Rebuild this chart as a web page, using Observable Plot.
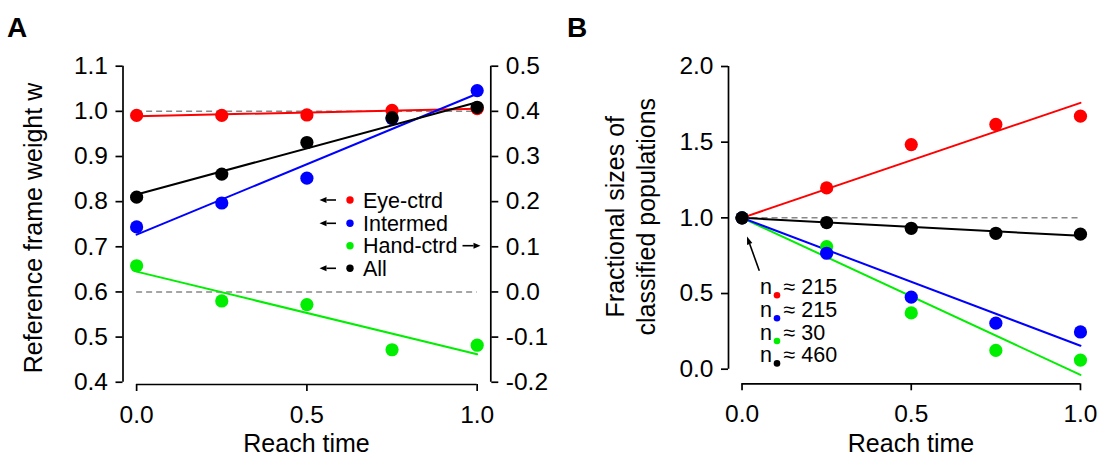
<!DOCTYPE html>
<html>
<head>
<meta charset="utf-8">
<script src="https://cdn.jsdelivr.net/npm/d3@7"></script>
<script src="https://cdn.jsdelivr.net/npm/@observablehq/plot@0.6"></script>
<style>
  html, body { margin: 0; padding: 0; background: #fff; }
  #root { position: relative; width: 1097px; height: 458px; overflow: hidden;
          font-family: 'Liberation Sans', Arial, Helvetica, sans-serif; }
  #root > svg, #root > div { position: absolute; top: 0; }
  #overlay { left: 0; top: 0; pointer-events: none; }
</style>
</head>
<body>
<div id="root"></div>
<script>
const FONT = "'Liberation Sans', Arial, Helvetica, sans-serif";

// ---------- shared ----------
const times = [0, 0.25, 0.5, 0.75, 1];
const fitTimes = [0, 1];
const xTicks = [0, 0.5, 1];
const seriesNames = ["Eye-ctrd", "Intermed", "Hand-ctrd", "All"];
const seriesColors = ["#ff0000", "#0000ff", "#00ee00", "#000000"];

// ---------- Panel A: reference frame weight ----------
const aLeftTicks = [0.4, 0.5, 0.6, 0.7, 0.8, 0.9, 1.0, 1.1];
const aRightTicks = [-0.2, -0.1, 0.0, 0.1, 0.2, 0.3, 0.4, 0.5];
const aRightOffset = 0.6;             // right axis value + 0.6 = left axis value
const aEye      = [0.991, 0.991, 0.992, 1.002, 1.006];
const aIntermed = [0.744, 0.797, 0.852, 0.984, 1.046];
const aHand     = [0.058, -0.020, -0.028, -0.128, -0.118];   // right axis
const aAll      = [0.810, 0.861, 0.931, 0.986, 1.009];
const aEyeFit      = [0.989, 1.006];
const aIntermedFit = [0.727, 1.039];
const aHandFit     = [0.045, -0.138];                        // right axis
const aAllFit      = [0.816, 1.020];
const aRefLeft = 1.0, aRefRight = 0.0;

// ---------- Panel B: fractional sizes ----------
const bTicks = [0, 0.5, 1.0, 1.5, 2.0];
const bEye      = [1, 1.198, 1.484, 1.617, 1.672];
const bIntermed = [1, 0.766, 0.476, 0.304, 0.246];
const bHand     = [1, 0.810, 0.372, 0.124, 0.060];
const bAll      = [1, 0.969, 0.931, 0.898, 0.892];
const bEyeFit      = [1, 1.760];
const bIntermedFit = [1, 0.155];
const bHandFit     = [1, -0.038];
const bAllFit      = [1, 0.881];
const bRef = 1.0;
const bCounts = ["215", "215", "30", "460"];

const rows = (vals, off = 0) => times.map((t, i) => ({t, v: vals[i] + off}));
const fitRows = (vals, off = 0) => fitTimes.map((t, i) => ({t, v: vals[i] + off}));
const fmt1 = v => (Math.round(v * 10) / 10).toFixed(1);

const root = document.getElementById("root");
const DOT_R = 6.6, LW = 2, AXW = 1.7, TICK_FS = 24.5, TITLE_FS = 25, LEG_FS = 21.5;

// ---------- build Panel A ----------
const aX = [-0.04, 1.04], aY = [0.395, 1.1];
const aSeries = [
  {pts: rows(aEye), fit: fitRows(aEyeFit), c: seriesColors[0]},
  {pts: rows(aIntermed), fit: fitRows(aIntermedFit), c: seriesColors[1]},
  {pts: rows(aHand, aRightOffset), fit: fitRows(aHandFit, aRightOffset), c: seriesColors[2]},
  {pts: rows(aAll), fit: fitRows(aAllFit), c: seriesColors[3]}
];
const plotA = Plot.plot({
  width: 560, height: 458,
  marginLeft: 122.5, marginRight: 69.7, marginTop: 65.7, marginBottom: 74,
  x: {domain: aX, axis: null},
  y: {domain: aY, axis: null},
  style: {fontFamily: FONT, fontSize: TICK_FS + "px", color: "#000", background: "transparent", overflow: "visible"},
  marks: [
    Plot.ruleY([aRefLeft, aRefRight + aRightOffset], {x1: fitTimes[0], x2: fitTimes[1], stroke: "#888", strokeWidth: 1.5, strokeDasharray: "6,4"}),
    ...aSeries.flatMap(s => [
      Plot.line(s.fit, {x: "t", y: "v", stroke: s.c, strokeWidth: LW}),
      Plot.dot(s.pts, {x: "t", y: "v", fill: s.c, r: DOT_R})
    ]),
    Plot.ruleX([aX[0]], {y1: d3.min(aLeftTicks), y2: d3.max(aLeftTicks), strokeWidth: AXW}),
    Plot.ruleX([aX[1]], {y1: d3.min(aRightTicks) + aRightOffset, y2: d3.max(aRightTicks) + aRightOffset, strokeWidth: AXW}),
    Plot.ruleY([aY[0]], {x1: d3.min(xTicks), x2: d3.max(xTicks), strokeWidth: AXW}),
    Plot.axisY(aLeftTicks, {anchor: "left", tickSize: 7, tickPadding: 8, strokeWidth: AXW, fontSize: TICK_FS, tickFormat: fmt1, label: null}),
    Plot.axisY(aRightTicks.map(v => v + aRightOffset), {anchor: "right", tickSize: 7, tickPadding: 8, strokeWidth: AXW, fontSize: TICK_FS, tickFormat: v => fmt1(v - aRightOffset), label: null}),
    Plot.axisX(xTicks, {anchor: "bottom", tickSize: 7, tickPadding: 14, strokeWidth: AXW, fontSize: TICK_FS, tickFormat: fmt1, label: null})
  ]
});
plotA.style.left = "0px";
root.appendChild(plotA);

// ---------- build Panel B ----------
const bX = [-0.04, 1.04], bY = [-0.0965, 2.0];
const bSeries = [
  {pts: rows(bEye), fit: fitRows(bEyeFit), c: seriesColors[0]},
  {pts: rows(bHand), fit: fitRows(bHandFit), c: seriesColors[2]},
  {pts: rows(bIntermed), fit: fitRows(bIntermedFit), c: seriesColors[1]},
  {pts: rows(bAll), fit: fitRows(bAllFit), c: seriesColors[3]}
];
const plotB = Plot.plot({
  width: 537, height: 458,
  marginLeft: 168, marginRight: 3.5, marginTop: 66, marginBottom: 458 - 383.3,
  x: {domain: bX, axis: null},
  y: {domain: bY, axis: null},
  style: {fontFamily: FONT, fontSize: TICK_FS + "px", color: "#000", background: "transparent", overflow: "visible"},
  marks: [
    Plot.ruleY([bRef], {x1: fitTimes[0], x2: fitTimes[1], stroke: "#888", strokeWidth: 1.5, strokeDasharray: "6,4"}),
    ...bSeries.map(s => Plot.line(s.fit, {x: "t", y: "v", stroke: s.c, strokeWidth: LW})),
    ...bSeries.map(s => Plot.dot(s.pts, {x: "t", y: "v", fill: s.c, r: DOT_R})),
    Plot.ruleX([bX[0]], {y1: d3.min(bTicks), y2: d3.max(bTicks), strokeWidth: AXW}),
    Plot.ruleY([bY[0]], {x1: d3.min(xTicks), x2: d3.max(xTicks), strokeWidth: AXW}),
    Plot.axisY(bTicks, {anchor: "left", tickSize: 7, tickPadding: 8, strokeWidth: AXW, fontSize: TICK_FS, tickFormat: fmt1, label: null}),
    Plot.axisX(xTicks, {anchor: "bottom", tickSize: 7, tickPadding: 14, strokeWidth: AXW, fontSize: TICK_FS, tickFormat: fmt1, label: null})
  ]
});
plotB.style.left = "560px";
root.appendChild(plotB);

// ---------- overlay: panel letters, titles, legends ----------
const ov = d3.select(root).append("svg").attr("id", "overlay")
  .attr("width", 1097).attr("height", 458)
  .style("font-family", FONT);

ov.append("text").attr("x", 7).attr("y", 37).attr("font-size", 28).attr("font-weight", "bold").text("A");
ov.append("text").attr("x", 567).attr("y", 37).attr("font-size", 28).attr("font-weight", "bold").text("B");

// axis titles
ov.append("text").attr("transform", "translate(33,228) rotate(-90)")
  .attr("text-anchor", "middle").attr("dominant-baseline", "central").attr("font-size", TITLE_FS)
  .text("Reference frame weight w");
ov.append("text").attr("x", 306.5).attr("y", 452).attr("text-anchor", "middle").attr("font-size", TITLE_FS).text("Reach time");
ov.append("text").attr("transform", "translate(614.5,216.7) rotate(-90)")
  .attr("text-anchor", "middle").attr("dominant-baseline", "central").attr("font-size", TITLE_FS)
  .text("Fractional sizes of");
ov.append("text").attr("transform", "translate(645.5,216.7) rotate(-90)")
  .attr("text-anchor", "middle").attr("dominant-baseline", "central").attr("font-size", TITLE_FS)
  .text("classified populations");
ov.append("text").attr("x", 911).attr("y", 452).attr("text-anchor", "middle").attr("font-size", TITLE_FS).text("Reach time");

// arrow helper
function arrow(x1, y1, x2, y2, head = 6, half = 2.6) {
  const a = Math.atan2(y2 - y1, x2 - x1);
  const bx = x2 - head * Math.cos(a), by = y2 - head * Math.sin(a);
  ov.append("line").attr("x1", x1).attr("y1", y1).attr("x2", bx).attr("y2", by)
    .attr("stroke", "#000").attr("stroke-width", 1.6);
  const px = -Math.sin(a) * half, py = Math.cos(a) * half;
  ov.append("path").attr("d", `M${x2},${y2}L${bx + px},${by + py}L${bx - px},${by - py}Z`).attr("fill", "#000");
}

// legend A
const legRowsY = [200, 223.3, 245.7, 268.3];
const legPointsRight = [false, false, true, false];
seriesNames.forEach((name, i) => {
  const y = legRowsY[i];
  if (!legPointsRight[i]) arrow(336, y, 319.5, y, 7, 3);
  ov.append("circle").attr("cx", 350).attr("cy", y).attr("r", 3.7).attr("fill", seriesColors[i]);
  ov.append("text").attr("x", 363).attr("y", y + 7.7).attr("font-size", LEG_FS).text(name);
  if (legPointsRight[i]) arrow(462.5, y, 480.5, y, 7, 3);
});

// panel B annotation
arrow(759.3, 270.7, 747, 236.5, 8, 2.8);
const nRowsY = [288.5, 311.5, 334.3, 356.7];
bCounts.forEach((c, i) => {
  const y = nRowsY[i];
  ov.append("text").attr("x", 760).attr("y", y + 5.6).attr("font-size", LEG_FS).text("n");
  ov.append("circle").attr("cx", 777).attr("cy", y + 6.7).attr("r", 3.3).attr("fill", seriesColors[i]);
  ov.append("text").attr("x", 783.5).attr("y", y + 5.6).attr("font-size", LEG_FS).text("\u2248 " + c);
});
</script>
</body>
</html>
